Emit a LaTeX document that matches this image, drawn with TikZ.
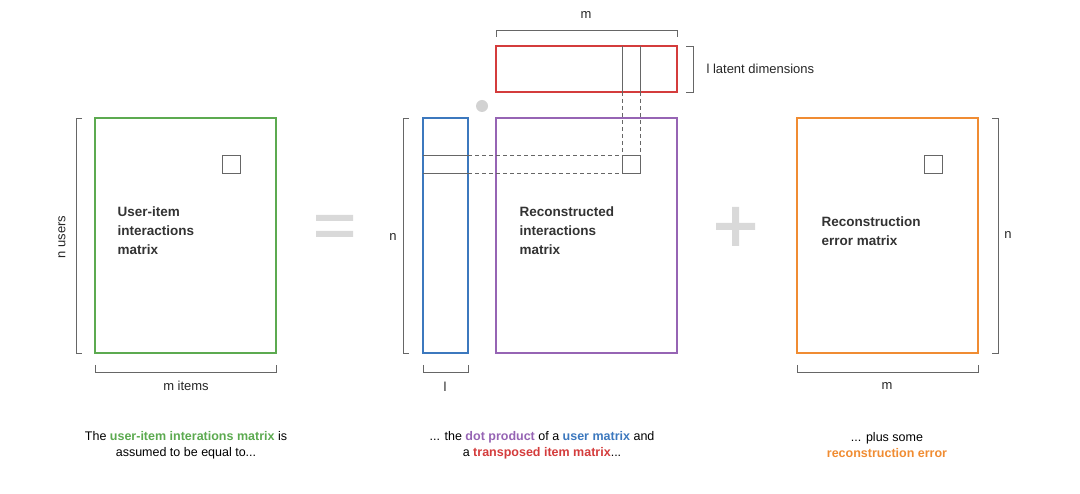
\documentclass[tikz,border=0pt]{standalone}
\usepackage{fontspec}
\setmainfont{Liberation Sans}
\begin{document}
\begin{tikzpicture}[x=1pt,y=-1pt,
  mat/.style={line width=1.8pt},
  br/.style={draw=gray!80!black,line width=0.9pt},
  gl/.style={draw=gray!80!black,line width=0.9pt},
  dl/.style={gl,dash pattern=on 4pt off 3pt},
  lab/.style={font=\fontsize{13}{15}\selectfont,text=gray!30!black},
  ttl/.style={font=\bfseries\fontsize{13.5}{19}\selectfont,text=black!80,align=left,anchor=west},
  captxt/.style={font=\fontsize{12.5}{16}\selectfont,align=center,text=black}]
\definecolor{cg}{RGB}{92,170,80}\definecolor{cb}{RGB}{60,120,190}
\definecolor{cp}{RGB}{150,100,180}\definecolor{cr}{RGB}{212,60,60}
\definecolor{co}{RGB}{240,140,50}
\useasboundingbox (0,0) rectangle (1080,494);
% green
\draw[mat,cg] (95,118) rectangle (276,353);
\draw[gl] (222,155) rectangle (240,173);
\node[ttl] (g) at (114,231) {User-item\\interactions\\matrix};
\draw[br] (82,118) -- (76,118) -- (76,353) -- (82,353);
\node[lab,rotate=90] (nu) at (62,237) {n users};
\draw[br] (95,365) -- (95,372) -- (276,372) -- (276,365);
\node[lab] (mi) at (186,386) {m items};
\fill[gray!30] (316,215) rectangle (353,221) (316,231) rectangle (353,237);
% blue
\draw[mat,cb] (423,118) rectangle (468,353);
\draw[gl] (423,155) -- (468,155) (423,173) -- (468,173);
\draw[br] (409,118) -- (403,118) -- (403,353) -- (409,353);
\node[lab] (n1) at (393,237) {n};
\draw[br] (423,365) -- (423,372) -- (468,372) -- (468,365);
\node[lab] (l1) at (445,387) {l};
% purple
\draw[mat,cp] (496,118) rectangle (677,353);
\draw[gl] (622,155) rectangle (640,173);
\node[ttl] (p) at (516,231) {Reconstructed\\interactions\\matrix};
% red
\draw[mat,cr] (496,46) rectangle (677,92);
\draw[gl] (622,46) -- (622,92) (640,46) -- (640,92);
\draw[br] (496,37) -- (496,30) -- (677,30) -- (677,37);
\node[lab] (m1) at (586,15) {m};
\draw[br] (686,46) -- (693,46) -- (693,92) -- (686,92);
\node[lab,anchor=west] (ld) at (703,69) {l latent dimensions};
\fill[gray!35] (482,106) circle (6);
\draw[dl] (468,155) -- (622,155) (468,173) -- (622,173) (622,92) -- (622,155) (640,92) -- (640,155);
\fill[gray!30] (716,223) rectangle (755,230) (732,207) rectangle (739,246);
% orange
\draw[mat,co] (797,118) rectangle (978,353);
\draw[gl] (924,155) rectangle (942,173);
\node[ttl] (o) at (818,231) {Reconstruction\\error matrix};
\draw[br] (992,118) -- (998,118) -- (998,353) -- (992,353);
\node[lab] (n2) at (1008,235) {n};
\draw[br] (797,365) -- (797,372) -- (978,372) -- (978,365);
\node[lab] (m2) at (887,386) {m};
% captions
\node[captxt] (c1) at (186,445) {The \textcolor{cg}{\bfseries user-item interations matrix} is\\assumed to be equal to...};
\node[captxt] (c2) at (542,445) {... the \textcolor{cp}{\bfseries dot product} of a \textcolor{cb}{\bfseries user matrix} and\\a \textcolor{cr}{\bfseries transposed item matrix}...};
\node[captxt] (c3) at (887,445) {... plus some\\\textcolor{co}{\bfseries reconstruction error}};
\end{tikzpicture}
\end{document}
